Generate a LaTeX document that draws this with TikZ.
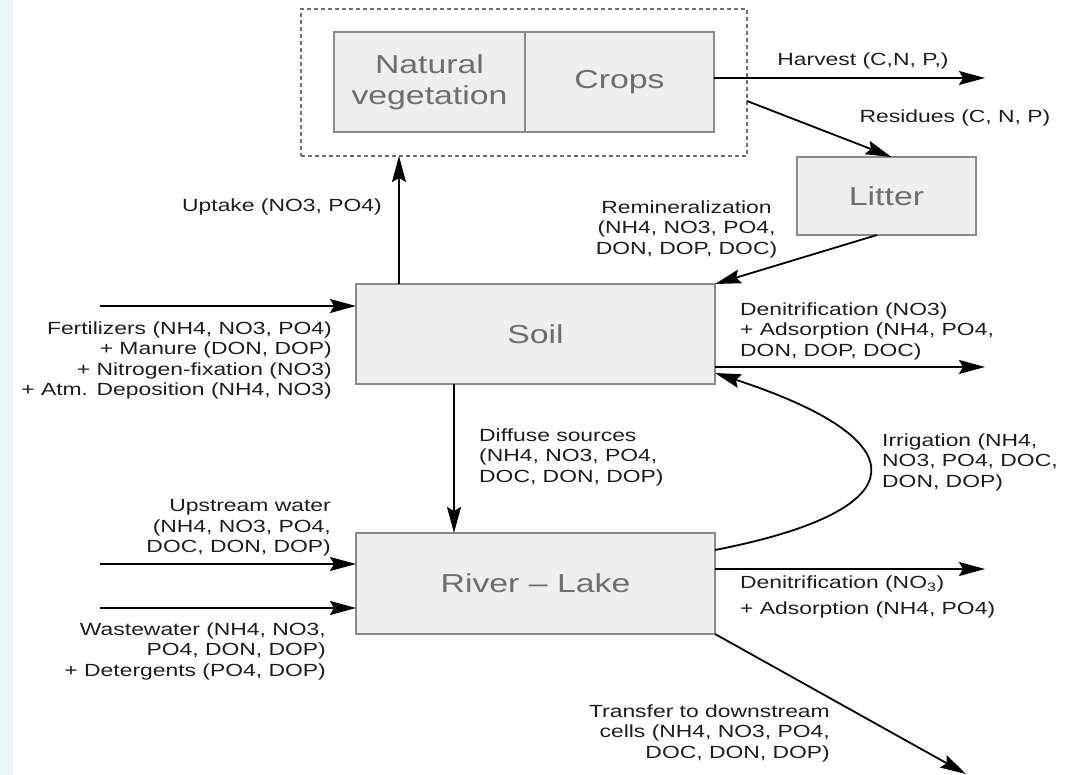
\documentclass[tikz,border=0pt]{standalone}
\usepackage{fontspec}
\setmainfont{Liberation Sans}[FakeStretch=1.3]
\usetikzlibrary{arrows.meta}
\definecolor{boxfill}{HTML}{EEEEEE}
\definecolor{boxline}{HTML}{8A8A8A}
\definecolor{boxtext}{HTML}{6E6E6E}
\definecolor{labtext}{HTML}{1E1E1E}
\definecolor{stripcol}{HTML}{E9F4F6}
\definecolor{dashline}{HTML}{707070}
\tikzset{
  box/.style={draw=boxline, fill=boxfill, line width=1.5pt, inner sep=0pt, outer sep=0pt,
    text=boxtext, font=\fontsize{26}{31}\selectfont, align=center},
  lab/.style={text=labtext, font=\fontsize{17.6}{20.5}\selectfont, inner sep=0pt},
  arr/.style={line width=1.8pt, draw=black, -{Stealth[length=26pt,width=14pt,inset=4pt]}},
  dashbox/.style={draw=dashline, line width=1.5pt, dash pattern=on 4pt off 3pt,
    inner sep=0pt, outer sep=0pt},
}
\begin{document}
\begin{tikzpicture}[x=1pt,y=-1pt]
\useasboundingbox (0,0) rectangle (1066,775);
\begin{scope}
\clip (0,0) rectangle (1066,775);
\fill[white] (0,0) rectangle (1066,775);
\fill[stripcol] (0,0) rectangle (13,775);
\node[font=\bfseries\fontsize{24}{28}\selectfont, anchor=base, inner sep=0pt] (tag) at (95,-4) {(a)};

% boxes
\node[dashbox, minimum width=446pt, minimum height=147pt] (veg) at (524,82.5) {};
\node[box, minimum width=191pt, minimum height=100pt] (nat) at (429.5,82) {Natural\\vegetation};
\node[box, minimum width=189pt, minimum height=100pt] (crops) at (619.5,82) {Crops};
\node[box, minimum width=179pt, minimum height=78pt] (litter) at (886.5,196) {Litter};
\node[box, minimum width=359pt, minimum height=100pt] (soil) at (535.5,334) {Soil};
\node[box, minimum width=359pt, minimum height=101pt] (river) at (535.5,583.5) {River – Lake};

% free ends
\coordinate (harvestEnd) at (985,78);
\coordinate (fertStart) at (100,306);
\coordinate (sdenEnd) at (985,367);
\coordinate (upStart) at (100,564);
\coordinate (wwStart) at (100,608);
\coordinate (rdenEnd) at (985,569);
\coordinate (transEnd) at (966,774);

% connectors
\draw[arr] (crops.east |- harvestEnd) -- (harvestEnd);
\draw[arr] ([yshift=-18.5pt]veg.east) -- ([xshift=5pt]litter.north);
\draw[arr] ([xshift=-9.5pt]litter.south) -- (soil.north east);
\draw[arr] ([xshift=-136.5pt]soil.north) -- ([xshift=-136.5pt]soil.north |- veg.south);
\draw[arr] (fertStart) -- (fertStart -| soil.west);
\draw[arr] (soil.east |- sdenEnd) -- (sdenEnd);
\draw[arr] ([xshift=-81.5pt]soil.south) -- ([xshift=-81.5pt]soil.south |- river.north);
\draw[arr] ([yshift=33.5pt]river.east) .. controls (920,510) and (920,440) .. ([yshift=-39pt]soil.east);
\draw[arr] (upStart) -- (upStart -| river.west);
\draw[arr] (wwStart) -- (wwStart -| river.west);
\draw[arr] (river.east |- rdenEnd) -- (rdenEnd);
\draw[arr] (river.south east) -- (transEnd);

% labels
\node[lab] (lharv) at (863,61) {Harvest (C,N, P,)};
\node[lab] (lres) at (955,118) {Residues (C, N, P)};
\node[lab, anchor=east] (lupt) at (382,207) {Uptake (NO3, PO4)};
\node[lab, align=center] (lrem) at (686.5,229) {Remineralization\\(NH4, NO3, PO4,\\DON, DOP, DOC)};
\node[lab, align=right, anchor=east] (lfert) at (332,360.5) {Fertilizers (NH4, NO3, PO4)\\+ Manure (DON, DOP)\\+ Nitrogen-fixation (NO3)\\+ Atm. Deposition (NH4, NO3)};
\node[lab, align=left, anchor=west] (lsden) at (740,331) {Denitrification (NO3)\\+ Adsorption (NH4, PO4,\\DON, DOP, DOC)};
\node[lab, align=left, anchor=west] (ldiff) at (479,457) {Diffuse sources\\(NH4, NO3, PO4,\\DOC, DON, DOP)};
\node[lab, align=left, anchor=west] (lirr) at (882,462) {Irrigation (NH4,\\NO3, PO4, DOC,\\DON, DOP)};
\node[lab, align=right, anchor=east] (lup) at (331,528) {Upstream water\\(NH4, NO3, PO4,\\DOC, DON, DOP)};
\node[lab, align=right, anchor=east] (lww) at (326,651) {Wastewater (NH4, NO3,\\PO4, DON, DOP)\\+ Detergents (PO4, DOP)};
\node[lab, align=left, anchor=west, font=\fontsize{17.6}{26}\selectfont] (lrden) at (740,597) {Denitrification (NO\textsubscript{3})\\+ Adsorption (NH4, PO4)};
\node[lab, align=right, anchor=east] (ltrans) at (830,733) {Transfer to downstream\\cells (NH4, NO3, PO4,\\DOC, DON, DOP)};
\end{scope}
\end{tikzpicture}
\end{document}
